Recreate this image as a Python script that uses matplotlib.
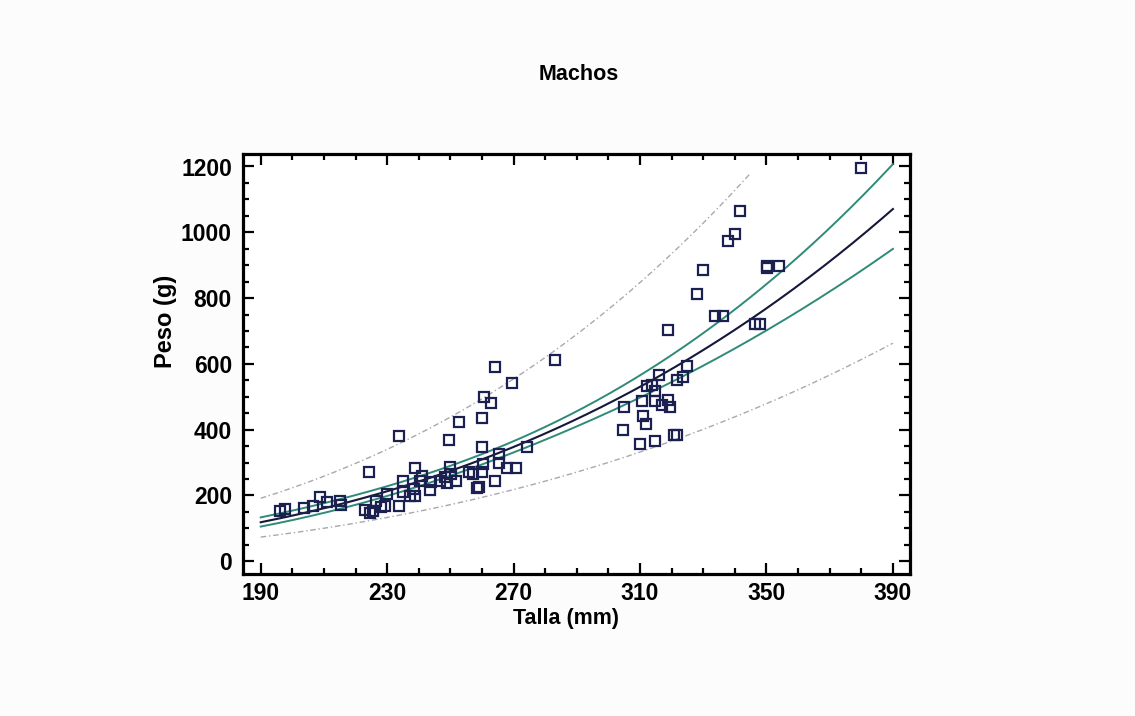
import numpy as np
import matplotlib
matplotlib.use("Agg")
import matplotlib.pyplot as plt
from matplotlib.ticker import MultipleLocator

# ---- data ----
talla = [196.0, 197.6, 203.6, 206.4, 208.9, 211.0, 215.2, 215.5, 222.9, 224.3,
         224.5, 225.5, 228.2, 229.3, 226.6, 229.8, 233.8, 233.8, 234.9, 235.1,
         237.2, 238.8, 238.8, 238.5, 240.3, 240.9, 243.7, 244.0, 246.7, 248.3,
         248.8, 249.6, 249.8, 250.3, 251.7, 252.8, 256.0, 257.3, 258.3, 259.1,
         260.1, 260.1, 260.1, 260.4, 260.6, 263.0, 264.1, 264.1, 265.5, 265.5,
         267.8, 269.4, 270.7, 274.1, 283.1,
         304.5, 305.0, 310.0, 310.5, 310.9, 311.8, 312.3, 313.7, 314.6, 314.6,
         314.8, 315.9, 317.0, 318.7, 319.6, 319.0, 320.8, 321.8, 321.8, 323.7,
         324.8, 328.0, 329.9, 333.8, 336.2, 337.8, 340.1, 341.7, 346.4, 347.8,
         350.1, 350.2, 354.0, 380.0]
peso = [154, 159, 161, 167, 194, 181, 184, 171, 157, 272,
        147, 152, 164, 169, 184, 204, 380, 169, 245, 210,
        199, 199, 283, 220, 243, 260, 218, 240, 245, 255,
        238, 369, 285, 265, 243, 422, 270, 265, 222, 226,
        434, 346, 270, 296, 498, 481, 589, 245, 326, 300,
        283, 541, 283, 348, 612,
        399, 470, 356, 486, 442, 417, 532, 536, 516, 486,
        365, 567, 475, 491, 470, 703, 384, 384, 551, 561,
        594, 812, 886, 746, 746, 974, 994, 1065, 721, 721,
        898, 891, 898, 1195]

x_ticks = [190, 230, 270, 310, 350, 390]
y_ticks = [0, 200, 400, 600, 800, 1000, 1200]
title = "Machos"
xlabel = "Talla (mm)"
ylabel = "Peso (g)"

# ---- log-log regression (power model) with 95% bands ----
lx = np.log(np.array(talla))
ly = np.log(np.array(peso))
n = len(lx)
b, a = np.polyfit(lx, ly, 1)
res = ly - (a + b * lx)
s = np.sqrt(np.sum(res ** 2) / (n - 2))
mx = lx.mean()
sxx = np.sum((lx - mx) ** 2)
tval = 1.99

xg = np.linspace(190, 390, 300)
lg = np.log(xg)
fit = a + b * lg
se_c = s * np.sqrt(1.0 / n + (lg - mx) ** 2 / sxx)
se_p = s * np.sqrt(1.0 + 1.0 / n + (lg - mx) ** 2 / sxx)
y_fit = np.exp(fit)
c_lo, c_hi = np.exp(fit - tval * se_c), np.exp(fit + tval * se_c)
p_lo, p_hi = np.exp(fit - tval * se_p), np.exp(fit + tval * se_p)
p_hi_m = np.where(p_hi <= 1180, p_hi, np.nan)

plt.rcParams['font.family'] = ['Liberation Sans', 'DejaVu Sans']
plt.rcParams['font.weight'] = 'bold'

fig = plt.figure(figsize=(11.35, 7.16), dpi=100)
fig.patch.set_facecolor('#fcfcfc')
ax = fig.add_axes([243 / 1135, 1 - 574 / 716, (910 - 243) / 1135, (574 - 154) / 716])
ax.set_facecolor('white')

ax.plot(xg, p_hi_m, color='#a8a8b0', lw=1.0, ls=(0, (4, 2, 1, 2)))
ax.plot(xg, p_lo, color='#a8a8b0', lw=1.0, ls=(0, (4, 2, 1, 2)))
ax.plot(xg, c_hi, color='#2f8a78', lw=1.4)
ax.plot(xg, c_lo, color='#2f8a78', lw=1.4)
ax.plot(xg, y_fit, color='#15183a', lw=1.5)
ax.plot(talla, peso, ls='none', marker='s', ms=6.5, mfc='none',
        mec='#1b2050', mew=1.6)

ax.set_xlim(184.4, 395.4)
ax.set_ylim(-38.8, 1238)
ax.set_xticks(x_ticks)
ax.set_yticks(y_ticks)
ax.xaxis.set_minor_locator(MultipleLocator(10))
ax.yaxis.set_minor_locator(MultipleLocator(50))
ax.tick_params(which='both', direction='in', top=True, right=True, width=1.6,
               color='black')
ax.tick_params(which='major', length=8, labelsize=16.5)
ax.tick_params(axis='x', which='major', pad=6)
ax.tick_params(axis='y', which='major', pad=8)
ax.tick_params(which='minor', length=4.5)
for sp in ax.spines.values():
    sp.set_linewidth(2.3)
for lab in ax.get_xticklabels() + ax.get_yticklabels():
    lab.set_fontweight('bold')

ax.set_xlabel(xlabel, fontsize=15.5, fontweight='bold')
ax.set_ylabel(ylabel, fontsize=17, fontweight='bold')
ax.xaxis.set_label_coords((566 - 243) / 667, (574 - 608) / 420)
ax.yaxis.set_label_coords((177 - 243) / 667, (574 - 321) / 420)
fig.text(579 / 1135, 1 - 74 / 716, title, fontsize=15.5, fontweight='bold',
         ha='center', va='center')

fig.savefig('out.png', dpi=100, facecolor=fig.get_facecolor())
